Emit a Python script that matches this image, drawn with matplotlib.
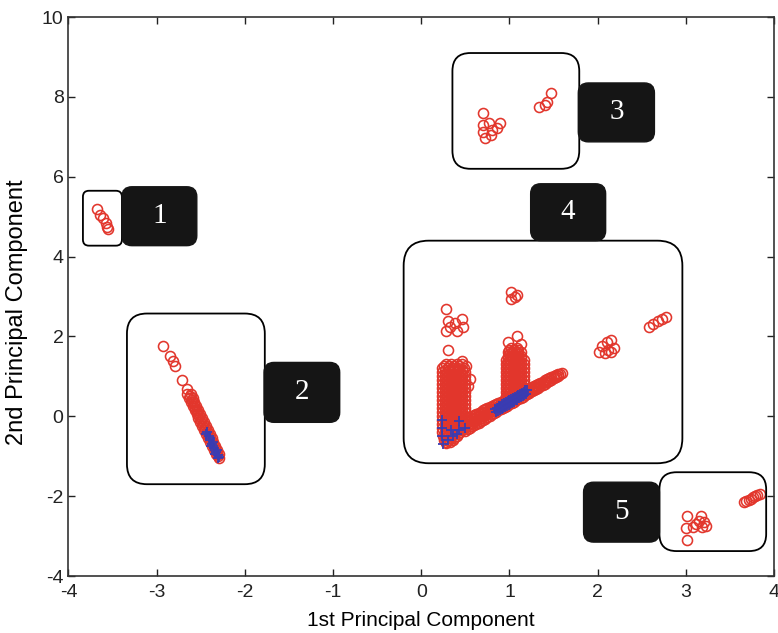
import numpy as np
import matplotlib.pyplot as plt
from matplotlib.patches import FancyBboxPatch

plt.rcParams['font.family'] = ['Liberation Sans', 'DejaVu Sans']
plt.rcParams['axes.unicode_minus'] = False

# ---- data ----
# cluster 1
c1_x = [-3.68, -3.64, -3.61, -3.58, -3.56, -3.55]
c1_y = [5.20, 5.05, 4.98, 4.85, 4.75, 4.68]

# cluster 2: loose points at the top
c2_x = [-2.93, -2.85, -2.82, -2.79, -2.71, -2.66]
c2_y = [1.75, 1.50, 1.38, 1.25, 0.90, 0.68]
# cluster 2: dense band, rows of (y, x values)
c2_band_rows = [
    (0.55, [-2.655, -2.615]), (0.50, [-2.624]),
    (0.45, [-2.633, -2.593]), (0.40, [-2.603]),
    (0.35, [-2.612, -2.572]), (0.30, [-2.581]),
    (0.25, [-2.590, -2.550]), (0.20, [-2.560]),
    (0.15, [-2.569, -2.529]), (0.10, [-2.538]),
    (0.05, [-2.547, -2.507]), (0.00, [-2.516]),
    (-0.05, [-2.526, -2.486]), (-0.10, [-2.495]),
    (-0.15, [-2.504, -2.464]), (-0.20, [-2.473]),
    (-0.25, [-2.483, -2.443]), (-0.30, [-2.452]),
    (-0.35, [-2.461, -2.421]), (-0.40, [-2.430]),
    (-0.45, [-2.439, -2.399]), (-0.50, [-2.409]),
    (-0.55, [-2.418, -2.378]), (-0.60, [-2.387]),
    (-0.65, [-2.396, -2.356]), (-0.70, [-2.365]),
    (-0.75, [-2.375, -2.335]), (-0.80, [-2.344]),
    (-0.85, [-2.353, -2.313]), (-0.90, [-2.322]),
    (-0.95, [-2.332, -2.292]), (-1.00, [-2.301]),
    (-1.05, [-2.29]),
]
c2_blue_x = [-2.43, -2.41, -2.39, -2.37, -2.35, -2.33, -2.31, -2.40, -2.36, -2.32, -2.29,
             -2.44, -2.38, -2.34, -2.30]
c2_blue_y = [-0.40, -0.50, -0.60, -0.70, -0.80, -0.90, -0.98, -0.55, -0.65, -0.85, -1.02,
             -0.45, -0.75, -0.95, -1.05]

# cluster 3
c3_x = [0.694, 0.694, 0.773, 0.887, 0.864, 0.694, 0.717, 0.796, 0.807, 1.34, 1.40, 1.476, 1.43]
c3_y = [7.60, 7.30, 7.35, 7.35, 7.22, 7.12, 6.98, 7.05, 7.18, 7.75, 7.80, 8.10, 7.88]

# cluster 4: loose groups
c4_loose_x = [0.285, 0.30, 0.285, 0.38, 0.46, 0.47, 0.40, 0.32, 0.30,
              1.02, 1.08, 1.02, 1.06,
              1.08, 0.98, 1.13, 0.46, 0.51, 0.55, 0.53,
              2.05, 2.10, 2.15, 2.12, 2.18, 2.02, 2.08, 2.15,
              2.58, 2.63, 2.68, 2.73, 2.78]
c4_loose_y = [2.68, 2.38, 2.13, 2.35, 2.43, 2.25, 2.13, 2.25, 1.65,
              3.12, 3.05, 2.95, 3.00,
              2.00, 1.85, 1.80, 1.38, 1.25, 0.93, 0.75,
              1.75, 1.85, 1.92, 1.65, 1.72, 1.62, 1.58, 1.60,
              2.25, 2.32, 2.38, 2.45, 2.50]

# cluster 4: left column, rows of (y, x values)
colA = [0.24, 0.29, 0.34, 0.39, 0.44, 0.49]
colB = [0.265, 0.315, 0.365, 0.415, 0.465]
c4_left_rows = [
    (1.30, [0.28, 0.34, 0.40, 0.46]), (1.25, [0.26, 0.31, 0.37, 0.43]),
    (1.20, [0.24, 0.30, 0.36, 0.42, 0.48]), (1.15, colB),
    (1.10, colA), (1.05, colB), (1.00, colA), (0.95, colB),
    (0.90, colA), (0.85, colB), (0.80, colA), (0.75, colB),
    (0.70, colA), (0.65, colB), (0.60, colA), (0.55, colB),
    (0.50, colA), (0.45, colB), (0.40, colA), (0.35, colB),
    (0.30, colA), (0.25, colB), (0.20, colA), (0.15, colB),
    (0.10, colA), (0.05, colB), (0.00, colA), (-0.05, colB),
    (-0.10, colA), (-0.15, colB), (-0.20, colA), (-0.25, colB),
    (-0.30, colA), (-0.35, colB),
    (-0.40, [0.24, 0.29, 0.34, 0.39, 0.44]),
    (-0.45, [0.265, 0.315, 0.365, 0.415]),
    (-0.50, [0.25, 0.30, 0.35, 0.40]),
    (-0.55, [0.27, 0.32, 0.37]),
    (-0.60, [0.26, 0.31, 0.36]),
    (-0.65, [0.28, 0.32]),
    (-0.68, [0.28]),
]

# cluster 4: right column, rows of (y, x values)
rcA = [0.96, 1.01, 1.06, 1.11, 1.16]
rcB = [0.985, 1.035, 1.085, 1.135]
c4_right_rows = [
    (1.70, [1.02, 1.08]), (1.65, [1.00, 1.05, 1.10]),
    (1.60, [0.98, 1.03, 1.08, 1.13]), (1.55, [1.00, 1.05, 1.10]),
    (1.50, [0.98, 1.03, 1.08, 1.13]), (1.45, rcB),
    (1.40, rcA), (1.35, rcB), (1.30, rcA), (1.25, rcB),
    (1.20, rcA), (1.15, rcB), (1.10, rcA), (1.05, rcB),
    (1.00, rcA), (0.95, rcB), (0.90, rcA), (0.85, rcB),
    (0.80, rcA), (0.75, rcB), (0.70, rcA), (0.65, rcB),
    (0.60, [0.96, 1.01, 1.06, 1.11]), (0.55, [0.985, 1.035, 1.085]),
    (0.50, [0.96, 1.01, 1.06]), (0.45, [0.96, 1.01]),
]

# cluster 4: diagonal band, rows of (x, y values)
c4_band_rows = [
    (0.50, [-0.36, -0.26, -0.16, -0.06]), (0.525, [-0.32, -0.22, -0.12, -0.03]),
    (0.55, [-0.29, -0.19, -0.10, -0.01]), (0.575, [-0.25, -0.16, -0.07, 0.02]),
    (0.60, [-0.22, -0.13, -0.04, 0.04]), (0.625, [-0.19, -0.10, -0.02, 0.07]),
    (0.65, [-0.155, -0.07, 0.01, 0.095]), (0.675, [-0.12, -0.035, 0.05, 0.12]),
    (0.70, [-0.09, 0.00, 0.09, 0.15]), (0.725, [-0.055, 0.03, 0.115, 0.175]),
    (0.75, [-0.02, 0.06, 0.14, 0.20]), (0.775, [0.015, 0.10, 0.19, 0.23]),
    (0.80, [0.05, 0.15, 0.25]), (0.825, [0.08, 0.18, 0.28]),
    (0.85, [0.115, 0.21, 0.305]), (0.875, [0.15, 0.24, 0.33]),
    (0.90, [0.18, 0.27, 0.36]), (0.925, [0.21, 0.30, 0.39]),
    (0.95, [0.245, 0.33, 0.415]), (0.975, [0.27, 0.355, 0.44]),
    (1.00, [0.30, 0.38, 0.46]), (1.025, [0.33, 0.41, 0.49]),
    (1.05, [0.365, 0.44, 0.515]), (1.075, [0.40, 0.47, 0.54]),
    (1.10, [0.43, 0.50, 0.57]), (1.125, [0.46, 0.53, 0.60]),
    (1.15, [0.495, 0.56, 0.625]), (1.175, [0.53, 0.59, 0.65]),
    (1.20, [0.56, 0.62, 0.68]), (1.225, [0.59, 0.65, 0.71]),
    (1.25, [0.625, 0.68, 0.735]), (1.275, [0.66, 0.76]),
    (1.30, [0.69, 0.74, 0.79]), (1.325, [0.72, 0.82]),
    (1.35, [0.755, 0.80, 0.845]), (1.375, [0.79, 0.87]),
    (1.40, [0.82, 0.86, 0.90]), (1.425, [0.85, 0.93]),
    (1.45, [0.885, 0.955]), (1.475, [0.92, 0.98]),
    (1.50, [0.95, 1.01]), (1.525, [0.98, 1.04]),
    (1.55, [1.02, 1.06]), (1.575, [1.07]), (1.59, [1.09]),
]

c4_blue_x = [0.24, 0.24, 0.24, 0.25, 0.34, 0.36, 0.43, 0.43, 0.49, 0.30, 0.40,
             0.84, 0.86, 0.88, 0.90, 0.92, 0.94, 0.96, 0.98, 1.00, 1.02, 1.04,
             1.06, 1.08, 1.10, 1.12, 1.14, 1.16, 1.18, 1.20,
             0.85, 0.87, 0.89, 0.91, 0.93, 0.95, 0.97, 0.99, 1.01, 1.03, 1.05,
             1.07, 1.09, 1.11, 1.13, 1.15, 1.17, 1.19]
c4_blue_y = [-0.08, -0.28, -0.49, -0.70, -0.33, -0.49, -0.12, -0.33, -0.28, -0.60, -0.45,
             0.19, 0.22, 0.25, 0.27, 0.30, 0.33, 0.35, 0.38, 0.41, 0.43, 0.46,
             0.49, 0.51, 0.54, 0.57, 0.59, 0.62, 0.65, 0.67,
             0.10, 0.13, 0.16, 0.18, 0.21, 0.24, 0.26, 0.29, 0.32, 0.34, 0.37,
             0.40, 0.42, 0.45, 0.48, 0.50, 0.53, 0.56]

# cluster 5
c5_x = [3.016, 3.175, 3.005, 3.08, 3.186, 3.118, 3.016, 3.23, 3.15, 3.20,
        3.66, 3.685, 3.71, 3.735, 3.76, 3.785, 3.81, 3.835]
c5_y = [-2.50, -2.50, -2.80, -2.78, -2.78, -2.70, -3.10, -2.75, -2.62, -2.65,
        -2.14, -2.115, -2.09, -2.06, -2.03, -2.00, -1.97, -1.94]

# annotation boxes: (x0, y0, x1, y1, corner radius px)
frames = [(-3.836, 4.275, -3.394, 5.65, 6),
          (-3.337, -1.70, -1.774, 2.575, 20),
          (0.353, 6.20, 1.791, 9.10, 18),
          (-0.20, -1.175, 2.96, 4.40, 25),
          (2.70, -3.375, 3.91, -1.40, 17)]
tags = [(-3.394, 4.275, -2.545, 5.75, '1'),
        (-1.783, -0.15, -0.925, 1.35, '2'),
        (1.78, 6.875, 2.643, 8.35, '3'),
        (1.24, 4.40, 2.09, 5.825, '4'),
        (1.84, -3.15, 2.70, -1.65, '5')]

red = '#e2362c'
blue = '#3a3cb2'


def flat_rows(rows):
    a = [k for k, vs in rows for v in vs]
    b = [v for k, vs in rows for v in vs]
    return a, b


c2b_y, c2b_x = flat_rows(c2_band_rows)
left_y, left_x = flat_rows(c4_left_rows)
right_y, right_x = flat_rows(c4_right_rows)
band_x, band_y = flat_rows(c4_band_rows)

red_x = c1_x + c2_x + c2b_x + c3_x + c4_loose_x + left_x + right_x + band_x + c5_x
red_y = c1_y + c2_y + c2b_y + c3_y + c4_loose_y + left_y + right_y + band_y + c5_y

fig = plt.figure(figsize=(7.78, 6.33), dpi=100)
ax = fig.add_axes([0.088, 0.09, 0.907, 0.883])

ax.plot(red_x, red_y, 'o', mfc='none', mec=red, ms=7.2, mew=1.15, zorder=2)
ax.plot(c2_blue_x + c4_blue_x, c2_blue_y + c4_blue_y, '+', color=blue, ms=7.5, mew=1.3, zorder=3)

ax.set_xlim(-4, 4)
ax.set_ylim(-4, 10)
ax.set_xticks(range(-4, 5))
ax.set_yticks(range(-4, 11, 2))
ax.tick_params(direction='in', top=True, right=True, length=5, width=1, labelsize=14, colors='#222222')
ax.tick_params(axis='x', pad=6)
for s in ax.spines.values():
    s.set_linewidth(1.2)
    s.set_color('#333333')
ax.set_xlabel('1st Principal Component', fontsize=15, labelpad=7)
ax.set_ylabel('2nd Principal Component', fontsize=17)
ax.yaxis.set_label_coords(-0.057, 0.472)

# pixels per data unit, to keep rounded corners circular
pos = ax.get_position()
px_x = pos.width * 778 / 8.0
px_y = pos.height * 633 / 14.0
asp = px_x / px_y

for x0, y0, x1, y1, r in frames:
    ax.add_patch(FancyBboxPatch((x0, y0), x1 - x0, y1 - y0,
                                boxstyle=f"round,pad=0,rounding_size={r / px_x:.4f}",
                                mutation_aspect=asp, fc='none', ec='black', lw=1.3, zorder=4))
for x0, y0, x1, y1, t in tags:
    ax.add_patch(FancyBboxPatch((x0, y0), x1 - x0, y1 - y0,
                                boxstyle=f"round,pad=0,rounding_size={10 / px_x:.4f}",
                                mutation_aspect=asp, fc='#151515', ec='#151515', lw=1, zorder=5))
    ax.text((x0 + x1) / 2, (y0 + y1) / 2, t, color='white', fontsize=21,
            family='Liberation Serif', ha='center', va='center', zorder=6)

fig.savefig('out.png', dpi=100)
